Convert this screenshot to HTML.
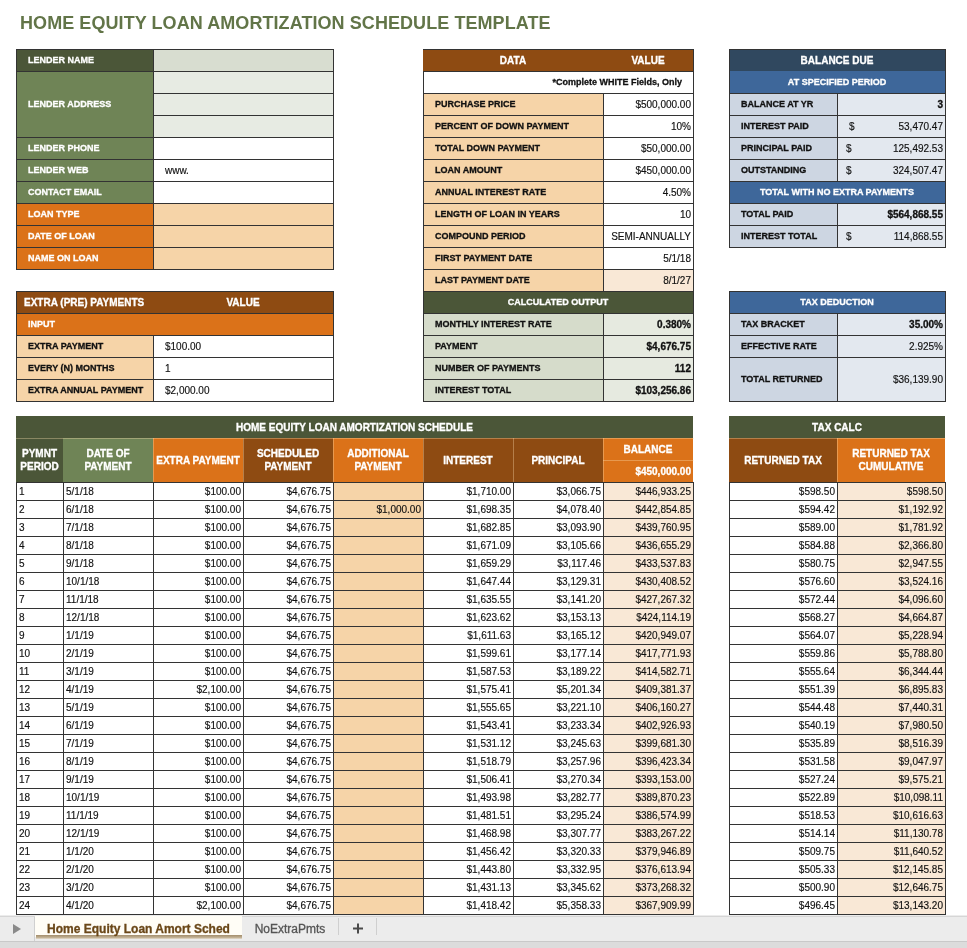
<!DOCTYPE html>
<html><head><meta charset="utf-8"><style>
html,body{margin:0;padding:0;}
body{width:967px;height:948px;position:relative;overflow:hidden;background:#fff;will-change:transform;font-family:"Liberation Sans",sans-serif;}
.b{position:absolute;box-sizing:border-box;}
.t{position:absolute;box-sizing:border-box;white-space:nowrap;font-weight:bold;overflow:hidden;-webkit-font-smoothing:antialiased;-webkit-text-stroke:0.3px currentColor;}
.n{font-weight:normal;-webkit-text-stroke:0.15px currentColor;}
.hd{display:flex;align-items:center;justify-content:center;text-align:center;color:#fff;font-size:10px;line-height:13px;}
.title{position:absolute;left:20px;top:13px;font-size:18px;letter-spacing:0.07px;font-weight:bold;color:#627548;white-space:nowrap;}
.tabbar{position:absolute;left:0;top:915px;width:967px;height:33px;background:#ececec;}
</style></head><body>
<div class="title">HOME EQUITY LOAN AMORTIZATION SCHEDULE TEMPLATE</div>
<div class="b" style="left:16px;top:49px;width:137px;height:22px;background:#4b5638;"></div>
<div class="b" style="left:153px;top:49px;width:180px;height:22px;background:#d8ddd0;"></div>
<div class="t" style="left:16px;top:49px;width:137px;height:22px;line-height:22px;font-size:9px;color:#fff;text-align:left;padding-left:12px;">LENDER NAME</div>
<div class="b" style="left:16px;top:71px;width:137px;height:66px;background:#6f8456;"></div>
<div class="b" style="left:153px;top:71px;width:180px;height:66px;background:#e7ebe3;"></div>
<div class="t" style="left:16px;top:71px;width:137px;height:66px;line-height:66px;font-size:9px;color:#fff;text-align:left;padding-left:12px;">LENDER ADDRESS</div>
<div class="b" style="left:16px;top:137px;width:137px;height:22px;background:#6f8456;"></div>
<div class="b" style="left:153px;top:137px;width:180px;height:22px;background:#fff;"></div>
<div class="t" style="left:16px;top:137px;width:137px;height:22px;line-height:22px;font-size:9px;color:#fff;text-align:left;padding-left:12px;">LENDER PHONE</div>
<div class="b" style="left:16px;top:159px;width:137px;height:22px;background:#6f8456;"></div>
<div class="b" style="left:153px;top:159px;width:180px;height:22px;background:#fff;"></div>
<div class="t" style="left:16px;top:159px;width:137px;height:22px;line-height:22px;font-size:9px;color:#fff;text-align:left;padding-left:12px;">LENDER WEB</div>
<div class="t n" style="left:153px;top:160px;width:180px;height:22px;line-height:22px;font-size:10px;color:#111;text-align:left;padding-left:12px;">www.</div>
<div class="b" style="left:16px;top:181px;width:137px;height:22px;background:#6f8456;"></div>
<div class="b" style="left:153px;top:181px;width:180px;height:22px;background:#fff;"></div>
<div class="t" style="left:16px;top:181px;width:137px;height:22px;line-height:22px;font-size:9px;color:#fff;text-align:left;padding-left:12px;">CONTACT EMAIL</div>
<div class="b" style="left:16px;top:203px;width:137px;height:22px;background:#db7219;"></div>
<div class="b" style="left:153px;top:203px;width:180px;height:22px;background:#f6d4a8;"></div>
<div class="t" style="left:16px;top:203px;width:137px;height:22px;line-height:22px;font-size:9px;color:#fff;text-align:left;padding-left:12px;">LOAN TYPE</div>
<div class="b" style="left:16px;top:225px;width:137px;height:22px;background:#db7219;"></div>
<div class="b" style="left:153px;top:225px;width:180px;height:22px;background:#f6d4a8;"></div>
<div class="t" style="left:16px;top:225px;width:137px;height:22px;line-height:22px;font-size:9px;color:#fff;text-align:left;padding-left:12px;">DATE OF LOAN</div>
<div class="b" style="left:16px;top:247px;width:137px;height:22px;background:#db7219;"></div>
<div class="b" style="left:153px;top:247px;width:180px;height:22px;background:#f6d4a8;"></div>
<div class="t" style="left:16px;top:247px;width:137px;height:22px;line-height:22px;font-size:9px;color:#fff;text-align:left;padding-left:12px;">NAME ON LOAN</div>
<div class="b" style="left:16px;top:49px;width:318px;height:1px;background:#333"></div>
<div class="b" style="left:16px;top:71px;width:318px;height:1px;background:#333"></div>
<div class="b" style="left:153px;top:93px;width:181px;height:1px;background:#333"></div>
<div class="b" style="left:153px;top:115px;width:181px;height:1px;background:#333"></div>
<div class="b" style="left:16px;top:137px;width:318px;height:1px;background:#333"></div>
<div class="b" style="left:16px;top:159px;width:318px;height:1px;background:#333"></div>
<div class="b" style="left:16px;top:181px;width:318px;height:1px;background:#333"></div>
<div class="b" style="left:16px;top:203px;width:318px;height:1px;background:#333"></div>
<div class="b" style="left:16px;top:225px;width:318px;height:1px;background:#333"></div>
<div class="b" style="left:16px;top:247px;width:318px;height:1px;background:#333"></div>
<div class="b" style="left:16px;top:269px;width:318px;height:1px;background:#333"></div>
<div class="b" style="left:16px;top:49px;width:1px;height:221px;background:#333"></div>
<div class="b" style="left:153px;top:49px;width:1px;height:221px;background:#333"></div>
<div class="b" style="left:333px;top:49px;width:1px;height:221px;background:#333"></div>
<div class="b" style="left:16px;top:291px;width:317px;height:22px;background:#8e4b12;"></div>
<div class="t" style="left:16px;top:292px;width:137px;height:22px;line-height:22px;font-size:10px;color:#fff;text-align:left;padding-left:8px;">EXTRA (PRE) PAYMENTS</div>
<div class="t" style="left:153px;top:292px;width:180px;height:22px;line-height:22px;font-size:10px;color:#fff;text-align:center;">VALUE</div>
<div class="b" style="left:16px;top:313px;width:317px;height:22px;background:#db7219;"></div>
<div class="t" style="left:16px;top:313px;width:137px;height:22px;line-height:22px;font-size:9px;color:#fff;text-align:left;padding-left:12px;">INPUT</div>
<div class="b" style="left:16px;top:335px;width:137px;height:22px;background:#f6d4a8;"></div>
<div class="b" style="left:153px;top:335px;width:180px;height:22px;background:#fff;"></div>
<div class="t" style="left:16px;top:335px;width:137px;height:22px;line-height:22px;font-size:9px;color:#111;text-align:left;padding-left:12px;">EXTRA PAYMENT</div>
<div class="t n" style="left:153px;top:336px;width:180px;height:22px;line-height:22px;font-size:10px;color:#111;text-align:left;padding-left:12px;">$100.00</div>
<div class="b" style="left:16px;top:357px;width:137px;height:22px;background:#f6d4a8;"></div>
<div class="b" style="left:153px;top:357px;width:180px;height:22px;background:#fff;"></div>
<div class="t" style="left:16px;top:357px;width:137px;height:22px;line-height:22px;font-size:9px;color:#111;text-align:left;padding-left:12px;">EVERY (N) MONTHS</div>
<div class="t n" style="left:153px;top:358px;width:180px;height:22px;line-height:22px;font-size:10px;color:#111;text-align:left;padding-left:12px;">1</div>
<div class="b" style="left:16px;top:379px;width:137px;height:22px;background:#f6d4a8;"></div>
<div class="b" style="left:153px;top:379px;width:180px;height:22px;background:#fff;"></div>
<div class="t" style="left:16px;top:379px;width:137px;height:22px;line-height:22px;font-size:9px;color:#111;text-align:left;padding-left:12px;">EXTRA ANNUAL PAYMENT</div>
<div class="t n" style="left:153px;top:380px;width:180px;height:22px;line-height:22px;font-size:10px;color:#111;text-align:left;padding-left:12px;">$2,000.00</div>
<div class="b" style="left:16px;top:291px;width:318px;height:1px;background:#333"></div>
<div class="b" style="left:16px;top:313px;width:318px;height:1px;background:#333"></div>
<div class="b" style="left:16px;top:335px;width:318px;height:1px;background:#333"></div>
<div class="b" style="left:16px;top:357px;width:318px;height:1px;background:#333"></div>
<div class="b" style="left:16px;top:379px;width:318px;height:1px;background:#333"></div>
<div class="b" style="left:16px;top:401px;width:318px;height:1px;background:#333"></div>
<div class="b" style="left:16px;top:291px;width:1px;height:111px;background:#333"></div>
<div class="b" style="left:333px;top:291px;width:1px;height:111px;background:#333"></div>
<div class="b" style="left:153px;top:335px;width:1px;height:67px;background:#333"></div>
<div class="b" style="left:423px;top:49px;width:270px;height:22px;background:#8e4b12;"></div>
<div class="t" style="left:423px;top:50px;width:180px;height:22px;line-height:22px;font-size:10px;color:#fff;text-align:center;">DATA</div>
<div class="t" style="left:603px;top:50px;width:90px;height:22px;line-height:22px;font-size:10px;color:#fff;text-align:center;">VALUE</div>
<div class="b" style="left:423px;top:71px;width:270px;height:22px;background:#fff;"></div>
<div class="t" style="left:423px;top:71px;width:270px;height:22px;line-height:22px;font-size:9px;color:#111;text-align:right;padding-right:11px;">*Complete WHITE Fields, Only</div>
<div class="b" style="left:423px;top:93px;width:180px;height:22px;background:#f6d4a8;"></div>
<div class="b" style="left:603px;top:93px;width:90px;height:22px;background:#fff;"></div>
<div class="t" style="left:423px;top:93px;width:180px;height:22px;line-height:22px;font-size:9px;color:#111;text-align:left;padding-left:12px;">PURCHASE PRICE</div>
<div class="t n" style="left:603px;top:94px;width:90px;height:22px;line-height:22px;font-size:10px;color:#111;text-align:right;padding-right:2px;">$500,000.00</div>
<div class="b" style="left:423px;top:115px;width:180px;height:22px;background:#f6d4a8;"></div>
<div class="b" style="left:603px;top:115px;width:90px;height:22px;background:#fff;"></div>
<div class="t" style="left:423px;top:115px;width:180px;height:22px;line-height:22px;font-size:9px;color:#111;text-align:left;padding-left:12px;">PERCENT OF DOWN PAYMENT</div>
<div class="t n" style="left:603px;top:116px;width:90px;height:22px;line-height:22px;font-size:10px;color:#111;text-align:right;padding-right:2px;">10%</div>
<div class="b" style="left:423px;top:137px;width:180px;height:22px;background:#f6d4a8;"></div>
<div class="b" style="left:603px;top:137px;width:90px;height:22px;background:#fff;"></div>
<div class="t" style="left:423px;top:137px;width:180px;height:22px;line-height:22px;font-size:9px;color:#111;text-align:left;padding-left:12px;">TOTAL DOWN PAYMENT</div>
<div class="t n" style="left:603px;top:138px;width:90px;height:22px;line-height:22px;font-size:10px;color:#111;text-align:right;padding-right:2px;">$50,000.00</div>
<div class="b" style="left:423px;top:159px;width:180px;height:22px;background:#f6d4a8;"></div>
<div class="b" style="left:603px;top:159px;width:90px;height:22px;background:#fff;"></div>
<div class="t" style="left:423px;top:159px;width:180px;height:22px;line-height:22px;font-size:9px;color:#111;text-align:left;padding-left:12px;">LOAN AMOUNT</div>
<div class="t n" style="left:603px;top:160px;width:90px;height:22px;line-height:22px;font-size:10px;color:#111;text-align:right;padding-right:2px;">$450,000.00</div>
<div class="b" style="left:423px;top:181px;width:180px;height:22px;background:#f6d4a8;"></div>
<div class="b" style="left:603px;top:181px;width:90px;height:22px;background:#fff;"></div>
<div class="t" style="left:423px;top:181px;width:180px;height:22px;line-height:22px;font-size:9px;color:#111;text-align:left;padding-left:12px;">ANNUAL INTEREST RATE</div>
<div class="t n" style="left:603px;top:182px;width:90px;height:22px;line-height:22px;font-size:10px;color:#111;text-align:right;padding-right:2px;">4.50%</div>
<div class="b" style="left:423px;top:203px;width:180px;height:22px;background:#f6d4a8;"></div>
<div class="b" style="left:603px;top:203px;width:90px;height:22px;background:#fff;"></div>
<div class="t" style="left:423px;top:203px;width:180px;height:22px;line-height:22px;font-size:9px;color:#111;text-align:left;padding-left:12px;">LENGTH OF LOAN IN YEARS</div>
<div class="t n" style="left:603px;top:204px;width:90px;height:22px;line-height:22px;font-size:10px;color:#111;text-align:right;padding-right:2px;">10</div>
<div class="b" style="left:423px;top:225px;width:180px;height:22px;background:#f6d4a8;"></div>
<div class="b" style="left:603px;top:225px;width:90px;height:22px;background:#fff;"></div>
<div class="t" style="left:423px;top:225px;width:180px;height:22px;line-height:22px;font-size:9px;color:#111;text-align:left;padding-left:12px;">COMPOUND PERIOD</div>
<div class="t n" style="left:603px;top:226px;width:90px;height:22px;line-height:22px;font-size:10px;color:#111;text-align:right;padding-right:2px;">SEMI-ANNUALLY</div>
<div class="b" style="left:423px;top:247px;width:180px;height:22px;background:#f6d4a8;"></div>
<div class="b" style="left:603px;top:247px;width:90px;height:22px;background:#fff;"></div>
<div class="t" style="left:423px;top:247px;width:180px;height:22px;line-height:22px;font-size:9px;color:#111;text-align:left;padding-left:12px;">FIRST PAYMENT DATE</div>
<div class="t n" style="left:603px;top:248px;width:90px;height:22px;line-height:22px;font-size:10px;color:#111;text-align:right;padding-right:2px;">5/1/18</div>
<div class="b" style="left:423px;top:269px;width:180px;height:22px;background:#f6d4a8;"></div>
<div class="b" style="left:603px;top:269px;width:90px;height:22px;background:#f9e8d6;"></div>
<div class="t" style="left:423px;top:269px;width:180px;height:22px;line-height:22px;font-size:9px;color:#111;text-align:left;padding-left:12px;">LAST PAYMENT DATE</div>
<div class="t n" style="left:603px;top:270px;width:90px;height:22px;line-height:22px;font-size:10px;color:#111;text-align:right;padding-right:2px;">8/1/27</div>
<div class="b" style="left:423px;top:291px;width:270px;height:22px;background:#4b5638;"></div>
<div class="t" style="left:423px;top:291px;width:270px;height:22px;line-height:22px;font-size:9px;color:#fff;text-align:center;">CALCULATED OUTPUT</div>
<div class="b" style="left:423px;top:313px;width:180px;height:22px;background:#d6dccb;"></div>
<div class="b" style="left:603px;top:313px;width:90px;height:22px;background:#e6eae0;"></div>
<div class="t" style="left:423px;top:313px;width:180px;height:22px;line-height:22px;font-size:9px;color:#111;text-align:left;padding-left:12px;">MONTHLY INTEREST RATE</div>
<div class="t" style="left:603px;top:314px;width:90px;height:22px;line-height:22px;font-size:10px;color:#111;text-align:right;padding-right:2px;">0.380%</div>
<div class="b" style="left:423px;top:335px;width:180px;height:22px;background:#d6dccb;"></div>
<div class="b" style="left:603px;top:335px;width:90px;height:22px;background:#e6eae0;"></div>
<div class="t" style="left:423px;top:335px;width:180px;height:22px;line-height:22px;font-size:9px;color:#111;text-align:left;padding-left:12px;">PAYMENT</div>
<div class="t" style="left:603px;top:336px;width:90px;height:22px;line-height:22px;font-size:10px;color:#111;text-align:right;padding-right:2px;">$4,676.75</div>
<div class="b" style="left:423px;top:357px;width:180px;height:22px;background:#d6dccb;"></div>
<div class="b" style="left:603px;top:357px;width:90px;height:22px;background:#e6eae0;"></div>
<div class="t" style="left:423px;top:357px;width:180px;height:22px;line-height:22px;font-size:9px;color:#111;text-align:left;padding-left:12px;">NUMBER OF PAYMENTS</div>
<div class="t" style="left:603px;top:358px;width:90px;height:22px;line-height:22px;font-size:10px;color:#111;text-align:right;padding-right:2px;">112</div>
<div class="b" style="left:423px;top:379px;width:180px;height:22px;background:#d6dccb;"></div>
<div class="b" style="left:603px;top:379px;width:90px;height:22px;background:#e6eae0;"></div>
<div class="t" style="left:423px;top:379px;width:180px;height:22px;line-height:22px;font-size:9px;color:#111;text-align:left;padding-left:12px;">INTEREST TOTAL</div>
<div class="t" style="left:603px;top:380px;width:90px;height:22px;line-height:22px;font-size:10px;color:#111;text-align:right;padding-right:2px;">$103,256.86</div>
<div class="b" style="left:423px;top:49px;width:271px;height:1px;background:#333"></div>
<div class="b" style="left:423px;top:71px;width:271px;height:1px;background:#333"></div>
<div class="b" style="left:423px;top:93px;width:271px;height:1px;background:#333"></div>
<div class="b" style="left:423px;top:115px;width:271px;height:1px;background:#333"></div>
<div class="b" style="left:423px;top:137px;width:271px;height:1px;background:#333"></div>
<div class="b" style="left:423px;top:159px;width:271px;height:1px;background:#333"></div>
<div class="b" style="left:423px;top:181px;width:271px;height:1px;background:#333"></div>
<div class="b" style="left:423px;top:203px;width:271px;height:1px;background:#333"></div>
<div class="b" style="left:423px;top:225px;width:271px;height:1px;background:#333"></div>
<div class="b" style="left:423px;top:247px;width:271px;height:1px;background:#333"></div>
<div class="b" style="left:423px;top:269px;width:271px;height:1px;background:#333"></div>
<div class="b" style="left:423px;top:291px;width:271px;height:1px;background:#333"></div>
<div class="b" style="left:423px;top:313px;width:271px;height:1px;background:#333"></div>
<div class="b" style="left:423px;top:335px;width:271px;height:1px;background:#333"></div>
<div class="b" style="left:423px;top:357px;width:271px;height:1px;background:#333"></div>
<div class="b" style="left:423px;top:379px;width:271px;height:1px;background:#333"></div>
<div class="b" style="left:423px;top:401px;width:271px;height:1px;background:#333"></div>
<div class="b" style="left:423px;top:71px;width:271px;height:1px;background:#333"></div>
<div class="b" style="left:423px;top:313px;width:271px;height:1px;background:#333"></div>
<div class="b" style="left:423px;top:71px;width:1px;height:331px;background:#333"></div>
<div class="b" style="left:693px;top:49px;width:1px;height:353px;background:#333"></div>
<div class="b" style="left:603px;top:93px;width:1px;height:199px;background:#333"></div>
<div class="b" style="left:603px;top:313px;width:1px;height:89px;background:#333"></div>
<div class="b" style="left:729px;top:49px;width:216px;height:22px;background:#30485f;"></div>
<div class="t" style="left:729px;top:50px;width:216px;height:22px;line-height:22px;font-size:10px;color:#fff;text-align:center;">BALANCE DUE</div>
<div class="b" style="left:729px;top:71px;width:216px;height:22px;background:#3e679a;"></div>
<div class="t" style="left:729px;top:71px;width:216px;height:22px;line-height:22px;font-size:9px;color:#fff;text-align:center;">AT SPECIFIED PERIOD</div>
<div class="b" style="left:729px;top:93px;width:108px;height:22px;background:#cdd6e2;"></div>
<div class="b" style="left:837px;top:93px;width:108px;height:22px;background:#e3e8ef;"></div>
<div class="t" style="left:729px;top:93px;width:108px;height:22px;line-height:22px;font-size:9px;color:#111;text-align:left;padding-left:12px;">BALANCE AT YR</div>
<div class="t" style="left:837px;top:94px;width:108px;height:22px;line-height:22px;font-size:10px;color:#111;text-align:right;padding-right:2px;">3</div>
<div class="b" style="left:729px;top:115px;width:108px;height:22px;background:#cdd6e2;"></div>
<div class="b" style="left:837px;top:115px;width:108px;height:22px;background:#e3e8ef;"></div>
<div class="t" style="left:729px;top:115px;width:108px;height:22px;line-height:22px;font-size:9px;color:#111;text-align:left;padding-left:12px;">INTEREST PAID</div>
<div class="t n" style="left:837px;top:116px;width:108px;height:22px;line-height:22px;font-size:10px;color:#111;text-align:right;padding-right:2px;">53,470.47</div>
<div class="t n" style="left:837px;top:116px;width:108px;height:22px;line-height:22px;font-size:10px;color:#111;text-align:left;padding-left:12px;">$</div>
<div class="b" style="left:729px;top:137px;width:108px;height:22px;background:#cdd6e2;"></div>
<div class="b" style="left:837px;top:137px;width:108px;height:22px;background:#e3e8ef;"></div>
<div class="t" style="left:729px;top:137px;width:108px;height:22px;line-height:22px;font-size:9px;color:#111;text-align:left;padding-left:12px;">PRINCIPAL PAID</div>
<div class="t n" style="left:837px;top:138px;width:108px;height:22px;line-height:22px;font-size:10px;color:#111;text-align:right;padding-right:2px;">125,492.53</div>
<div class="t n" style="left:837px;top:138px;width:108px;height:22px;line-height:22px;font-size:10px;color:#111;text-align:left;padding-left:9px;">$</div>
<div class="b" style="left:729px;top:159px;width:108px;height:22px;background:#cdd6e2;"></div>
<div class="b" style="left:837px;top:159px;width:108px;height:22px;background:#e3e8ef;"></div>
<div class="t" style="left:729px;top:159px;width:108px;height:22px;line-height:22px;font-size:9px;color:#111;text-align:left;padding-left:12px;">OUTSTANDING</div>
<div class="t n" style="left:837px;top:160px;width:108px;height:22px;line-height:22px;font-size:10px;color:#111;text-align:right;padding-right:2px;">324,507.47</div>
<div class="t n" style="left:837px;top:160px;width:108px;height:22px;line-height:22px;font-size:10px;color:#111;text-align:left;padding-left:9px;">$</div>
<div class="b" style="left:729px;top:181px;width:216px;height:22px;background:#3e679a;"></div>
<div class="t" style="left:729px;top:181px;width:216px;height:22px;line-height:22px;font-size:9px;color:#fff;text-align:center;">TOTAL WITH NO EXTRA PAYMENTS</div>
<div class="b" style="left:729px;top:203px;width:108px;height:22px;background:#cdd6e2;"></div>
<div class="b" style="left:837px;top:203px;width:108px;height:22px;background:#e3e8ef;"></div>
<div class="t" style="left:729px;top:203px;width:108px;height:22px;line-height:22px;font-size:9px;color:#111;text-align:left;padding-left:12px;">TOTAL PAID</div>
<div class="t" style="left:837px;top:204px;width:108px;height:22px;line-height:22px;font-size:10px;color:#111;text-align:right;padding-right:2px;">$564,868.55</div>
<div class="b" style="left:729px;top:225px;width:108px;height:22px;background:#cdd6e2;"></div>
<div class="b" style="left:837px;top:225px;width:108px;height:22px;background:#e3e8ef;"></div>
<div class="t" style="left:729px;top:225px;width:108px;height:22px;line-height:22px;font-size:9px;color:#111;text-align:left;padding-left:12px;">INTEREST TOTAL</div>
<div class="t n" style="left:837px;top:226px;width:108px;height:22px;line-height:22px;font-size:10px;color:#111;text-align:right;padding-right:2px;">114,868.55</div>
<div class="t n" style="left:837px;top:226px;width:108px;height:22px;line-height:22px;font-size:10px;color:#111;text-align:left;padding-left:9px;">$</div>
<div class="b" style="left:729px;top:49px;width:217px;height:1px;background:#333"></div>
<div class="b" style="left:729px;top:93px;width:217px;height:1px;background:#333"></div>
<div class="b" style="left:729px;top:115px;width:217px;height:1px;background:#333"></div>
<div class="b" style="left:729px;top:137px;width:217px;height:1px;background:#333"></div>
<div class="b" style="left:729px;top:159px;width:217px;height:1px;background:#333"></div>
<div class="b" style="left:729px;top:181px;width:217px;height:1px;background:#333"></div>
<div class="b" style="left:729px;top:203px;width:217px;height:1px;background:#333"></div>
<div class="b" style="left:729px;top:225px;width:217px;height:1px;background:#333"></div>
<div class="b" style="left:729px;top:247px;width:217px;height:1px;background:#333"></div>
<div class="b" style="left:729px;top:49px;width:1px;height:199px;background:#333"></div>
<div class="b" style="left:945px;top:49px;width:1px;height:199px;background:#333"></div>
<div class="b" style="left:837px;top:93px;width:1px;height:89px;background:#333"></div>
<div class="b" style="left:837px;top:203px;width:1px;height:45px;background:#333"></div>
<div class="b" style="left:729px;top:291px;width:216px;height:22px;background:#3e679a;"></div>
<div class="t" style="left:729px;top:291px;width:216px;height:22px;line-height:22px;font-size:9px;color:#fff;text-align:center;">TAX DEDUCTION</div>
<div class="b" style="left:729px;top:313px;width:108px;height:22px;background:#cdd6e2;"></div>
<div class="b" style="left:837px;top:313px;width:108px;height:22px;background:#e3e8ef;"></div>
<div class="t" style="left:729px;top:313px;width:108px;height:22px;line-height:22px;font-size:9px;color:#111;text-align:left;padding-left:12px;">TAX BRACKET</div>
<div class="t" style="left:837px;top:314px;width:108px;height:22px;line-height:22px;font-size:10px;color:#111;text-align:right;padding-right:2px;">35.00%</div>
<div class="b" style="left:729px;top:335px;width:108px;height:22px;background:#cdd6e2;"></div>
<div class="b" style="left:837px;top:335px;width:108px;height:22px;background:#e3e8ef;"></div>
<div class="t" style="left:729px;top:335px;width:108px;height:22px;line-height:22px;font-size:9px;color:#111;text-align:left;padding-left:12px;">EFFECTIVE RATE</div>
<div class="t n" style="left:837px;top:336px;width:108px;height:22px;line-height:22px;font-size:10px;color:#111;text-align:right;padding-right:2px;">2.925%</div>
<div class="b" style="left:729px;top:357px;width:108px;height:44px;background:#cdd6e2;"></div>
<div class="b" style="left:837px;top:357px;width:108px;height:44px;background:#e3e8ef;"></div>
<div class="t" style="left:729px;top:357px;width:108px;height:44px;line-height:44px;font-size:9px;color:#111;text-align:left;padding-left:12px;">TOTAL RETURNED</div>
<div class="t n" style="left:837px;top:358px;width:108px;height:44px;line-height:44px;font-size:10px;color:#111;text-align:right;padding-right:2px;">$36,139.90</div>
<div class="b" style="left:729px;top:291px;width:217px;height:1px;background:#333"></div>
<div class="b" style="left:729px;top:313px;width:217px;height:1px;background:#333"></div>
<div class="b" style="left:729px;top:335px;width:217px;height:1px;background:#333"></div>
<div class="b" style="left:729px;top:357px;width:217px;height:1px;background:#333"></div>
<div class="b" style="left:729px;top:401px;width:217px;height:1px;background:#333"></div>
<div class="b" style="left:729px;top:291px;width:1px;height:111px;background:#333"></div>
<div class="b" style="left:945px;top:291px;width:1px;height:111px;background:#333"></div>
<div class="b" style="left:837px;top:313px;width:1px;height:89px;background:#333"></div>
<div class="b" style="left:16px;top:416px;width:677px;height:22px;background:#4b5638;"></div>
<div class="t" style="left:16px;top:417px;width:677px;height:22px;line-height:22px;font-size:10px;color:#fff;text-align:center;">HOME EQUITY LOAN AMORTIZATION SCHEDULE</div>
<div class="b" style="left:16px;top:438px;width:47px;height:44px;background:#4b5638;"></div>
<div class="t hd" style="left:16px;top:438px;width:47px;height:44px;">PYMNT<br>PERIOD</div>
<div class="b" style="left:63px;top:438px;width:90px;height:44px;background:#6f8456;"></div>
<div class="t hd" style="left:63px;top:438px;width:90px;height:44px;">DATE OF<br>PAYMENT</div>
<div class="b" style="left:153px;top:438px;width:90px;height:44px;background:#db7219;"></div>
<div class="t hd" style="left:153px;top:438px;width:90px;height:44px;">EXTRA PAYMENT</div>
<div class="b" style="left:243px;top:438px;width:90px;height:44px;background:#8e4b12;"></div>
<div class="t hd" style="left:243px;top:438px;width:90px;height:44px;">SCHEDULED<br>PAYMENT</div>
<div class="b" style="left:333px;top:438px;width:90px;height:44px;background:#db7219;"></div>
<div class="t hd" style="left:333px;top:438px;width:90px;height:44px;">ADDITIONAL<br>PAYMENT</div>
<div class="b" style="left:423px;top:438px;width:90px;height:44px;background:#8e4b12;"></div>
<div class="t hd" style="left:423px;top:438px;width:90px;height:44px;">INTEREST</div>
<div class="b" style="left:513px;top:438px;width:90px;height:44px;background:#8e4b12;"></div>
<div class="t hd" style="left:513px;top:438px;width:90px;height:44px;">PRINCIPAL</div>
<div class="b" style="left:603px;top:438px;width:90px;height:44px;background:#db7219;"></div>
<div class="t" style="left:603px;top:439px;width:90px;height:22px;line-height:22px;font-size:10px;color:#fff;text-align:center;">BALANCE</div>
<div class="t" style="left:603px;top:461px;width:90px;height:22px;line-height:22px;font-size:10px;color:#fff;text-align:right;padding-right:2px;">$450,000.00</div>
<div class="b" style="left:153px;top:438px;width:1px;height:44px;background:rgba(255,225,180,0.35)"></div>
<div class="b" style="left:243px;top:438px;width:1px;height:44px;background:rgba(255,225,180,0.35)"></div>
<div class="b" style="left:333px;top:438px;width:1px;height:44px;background:rgba(255,225,180,0.35)"></div>
<div class="b" style="left:423px;top:438px;width:1px;height:44px;background:rgba(255,225,180,0.35)"></div>
<div class="b" style="left:513px;top:438px;width:1px;height:44px;background:rgba(255,225,180,0.35)"></div>
<div class="b" style="left:603px;top:438px;width:1px;height:44px;background:rgba(255,225,180,0.35)"></div>
<div class="b" style="left:16px;top:438px;width:678px;height:1px;background:rgba(255,225,180,0.35)"></div>
<div class="b" style="left:603px;top:460px;width:91px;height:1px;background:rgba(255,225,180,0.35)"></div>
<div class="b" style="left:333px;top:482px;width:90px;height:432px;background:#f6d4a8;"></div>
<div class="b" style="left:603px;top:482px;width:90px;height:432px;background:#f9e8d6;"></div>
<div class="b" style="left:837px;top:482px;width:108px;height:432px;background:#f9e8d6;"></div>
<div class="t n" style="left:16px;top:483px;width:47px;height:18px;line-height:18px;font-size:10px;color:#111;text-align:left;padding-left:3px;">1</div>
<div class="t n" style="left:63px;top:483px;width:90px;height:18px;line-height:18px;font-size:10px;color:#111;text-align:left;padding-left:3px;">5/1/18</div>
<div class="t n" style="left:153px;top:483px;width:90px;height:18px;line-height:18px;font-size:10px;color:#111;text-align:right;padding-right:2px;">$100.00</div>
<div class="t n" style="left:243px;top:483px;width:90px;height:18px;line-height:18px;font-size:10px;color:#111;text-align:right;padding-right:2px;">$4,676.75</div>
<div class="t n" style="left:423px;top:483px;width:90px;height:18px;line-height:18px;font-size:10px;color:#111;text-align:right;padding-right:2px;">$1,710.00</div>
<div class="t n" style="left:513px;top:483px;width:90px;height:18px;line-height:18px;font-size:10px;color:#111;text-align:right;padding-right:2px;">$3,066.75</div>
<div class="t n" style="left:603px;top:483px;width:90px;height:18px;line-height:18px;font-size:10px;color:#111;text-align:right;padding-right:2px;">$446,933.25</div>
<div class="t n" style="left:729px;top:483px;width:108px;height:18px;line-height:18px;font-size:10px;color:#111;text-align:right;padding-right:2px;">$598.50</div>
<div class="t n" style="left:837px;top:483px;width:108px;height:18px;line-height:18px;font-size:10px;color:#111;text-align:right;padding-right:2px;">$598.50</div>
<div class="t n" style="left:16px;top:501px;width:47px;height:18px;line-height:18px;font-size:10px;color:#111;text-align:left;padding-left:3px;">2</div>
<div class="t n" style="left:63px;top:501px;width:90px;height:18px;line-height:18px;font-size:10px;color:#111;text-align:left;padding-left:3px;">6/1/18</div>
<div class="t n" style="left:153px;top:501px;width:90px;height:18px;line-height:18px;font-size:10px;color:#111;text-align:right;padding-right:2px;">$100.00</div>
<div class="t n" style="left:243px;top:501px;width:90px;height:18px;line-height:18px;font-size:10px;color:#111;text-align:right;padding-right:2px;">$4,676.75</div>
<div class="t n" style="left:333px;top:501px;width:90px;height:18px;line-height:18px;font-size:10px;color:#111;text-align:right;padding-right:2px;">$1,000.00</div>
<div class="t n" style="left:423px;top:501px;width:90px;height:18px;line-height:18px;font-size:10px;color:#111;text-align:right;padding-right:2px;">$1,698.35</div>
<div class="t n" style="left:513px;top:501px;width:90px;height:18px;line-height:18px;font-size:10px;color:#111;text-align:right;padding-right:2px;">$4,078.40</div>
<div class="t n" style="left:603px;top:501px;width:90px;height:18px;line-height:18px;font-size:10px;color:#111;text-align:right;padding-right:2px;">$442,854.85</div>
<div class="t n" style="left:729px;top:501px;width:108px;height:18px;line-height:18px;font-size:10px;color:#111;text-align:right;padding-right:2px;">$594.42</div>
<div class="t n" style="left:837px;top:501px;width:108px;height:18px;line-height:18px;font-size:10px;color:#111;text-align:right;padding-right:2px;">$1,192.92</div>
<div class="t n" style="left:16px;top:519px;width:47px;height:18px;line-height:18px;font-size:10px;color:#111;text-align:left;padding-left:3px;">3</div>
<div class="t n" style="left:63px;top:519px;width:90px;height:18px;line-height:18px;font-size:10px;color:#111;text-align:left;padding-left:3px;">7/1/18</div>
<div class="t n" style="left:153px;top:519px;width:90px;height:18px;line-height:18px;font-size:10px;color:#111;text-align:right;padding-right:2px;">$100.00</div>
<div class="t n" style="left:243px;top:519px;width:90px;height:18px;line-height:18px;font-size:10px;color:#111;text-align:right;padding-right:2px;">$4,676.75</div>
<div class="t n" style="left:423px;top:519px;width:90px;height:18px;line-height:18px;font-size:10px;color:#111;text-align:right;padding-right:2px;">$1,682.85</div>
<div class="t n" style="left:513px;top:519px;width:90px;height:18px;line-height:18px;font-size:10px;color:#111;text-align:right;padding-right:2px;">$3,093.90</div>
<div class="t n" style="left:603px;top:519px;width:90px;height:18px;line-height:18px;font-size:10px;color:#111;text-align:right;padding-right:2px;">$439,760.95</div>
<div class="t n" style="left:729px;top:519px;width:108px;height:18px;line-height:18px;font-size:10px;color:#111;text-align:right;padding-right:2px;">$589.00</div>
<div class="t n" style="left:837px;top:519px;width:108px;height:18px;line-height:18px;font-size:10px;color:#111;text-align:right;padding-right:2px;">$1,781.92</div>
<div class="t n" style="left:16px;top:537px;width:47px;height:18px;line-height:18px;font-size:10px;color:#111;text-align:left;padding-left:3px;">4</div>
<div class="t n" style="left:63px;top:537px;width:90px;height:18px;line-height:18px;font-size:10px;color:#111;text-align:left;padding-left:3px;">8/1/18</div>
<div class="t n" style="left:153px;top:537px;width:90px;height:18px;line-height:18px;font-size:10px;color:#111;text-align:right;padding-right:2px;">$100.00</div>
<div class="t n" style="left:243px;top:537px;width:90px;height:18px;line-height:18px;font-size:10px;color:#111;text-align:right;padding-right:2px;">$4,676.75</div>
<div class="t n" style="left:423px;top:537px;width:90px;height:18px;line-height:18px;font-size:10px;color:#111;text-align:right;padding-right:2px;">$1,671.09</div>
<div class="t n" style="left:513px;top:537px;width:90px;height:18px;line-height:18px;font-size:10px;color:#111;text-align:right;padding-right:2px;">$3,105.66</div>
<div class="t n" style="left:603px;top:537px;width:90px;height:18px;line-height:18px;font-size:10px;color:#111;text-align:right;padding-right:2px;">$436,655.29</div>
<div class="t n" style="left:729px;top:537px;width:108px;height:18px;line-height:18px;font-size:10px;color:#111;text-align:right;padding-right:2px;">$584.88</div>
<div class="t n" style="left:837px;top:537px;width:108px;height:18px;line-height:18px;font-size:10px;color:#111;text-align:right;padding-right:2px;">$2,366.80</div>
<div class="t n" style="left:16px;top:555px;width:47px;height:18px;line-height:18px;font-size:10px;color:#111;text-align:left;padding-left:3px;">5</div>
<div class="t n" style="left:63px;top:555px;width:90px;height:18px;line-height:18px;font-size:10px;color:#111;text-align:left;padding-left:3px;">9/1/18</div>
<div class="t n" style="left:153px;top:555px;width:90px;height:18px;line-height:18px;font-size:10px;color:#111;text-align:right;padding-right:2px;">$100.00</div>
<div class="t n" style="left:243px;top:555px;width:90px;height:18px;line-height:18px;font-size:10px;color:#111;text-align:right;padding-right:2px;">$4,676.75</div>
<div class="t n" style="left:423px;top:555px;width:90px;height:18px;line-height:18px;font-size:10px;color:#111;text-align:right;padding-right:2px;">$1,659.29</div>
<div class="t n" style="left:513px;top:555px;width:90px;height:18px;line-height:18px;font-size:10px;color:#111;text-align:right;padding-right:2px;">$3,117.46</div>
<div class="t n" style="left:603px;top:555px;width:90px;height:18px;line-height:18px;font-size:10px;color:#111;text-align:right;padding-right:2px;">$433,537.83</div>
<div class="t n" style="left:729px;top:555px;width:108px;height:18px;line-height:18px;font-size:10px;color:#111;text-align:right;padding-right:2px;">$580.75</div>
<div class="t n" style="left:837px;top:555px;width:108px;height:18px;line-height:18px;font-size:10px;color:#111;text-align:right;padding-right:2px;">$2,947.55</div>
<div class="t n" style="left:16px;top:573px;width:47px;height:18px;line-height:18px;font-size:10px;color:#111;text-align:left;padding-left:3px;">6</div>
<div class="t n" style="left:63px;top:573px;width:90px;height:18px;line-height:18px;font-size:10px;color:#111;text-align:left;padding-left:3px;">10/1/18</div>
<div class="t n" style="left:153px;top:573px;width:90px;height:18px;line-height:18px;font-size:10px;color:#111;text-align:right;padding-right:2px;">$100.00</div>
<div class="t n" style="left:243px;top:573px;width:90px;height:18px;line-height:18px;font-size:10px;color:#111;text-align:right;padding-right:2px;">$4,676.75</div>
<div class="t n" style="left:423px;top:573px;width:90px;height:18px;line-height:18px;font-size:10px;color:#111;text-align:right;padding-right:2px;">$1,647.44</div>
<div class="t n" style="left:513px;top:573px;width:90px;height:18px;line-height:18px;font-size:10px;color:#111;text-align:right;padding-right:2px;">$3,129.31</div>
<div class="t n" style="left:603px;top:573px;width:90px;height:18px;line-height:18px;font-size:10px;color:#111;text-align:right;padding-right:2px;">$430,408.52</div>
<div class="t n" style="left:729px;top:573px;width:108px;height:18px;line-height:18px;font-size:10px;color:#111;text-align:right;padding-right:2px;">$576.60</div>
<div class="t n" style="left:837px;top:573px;width:108px;height:18px;line-height:18px;font-size:10px;color:#111;text-align:right;padding-right:2px;">$3,524.16</div>
<div class="t n" style="left:16px;top:591px;width:47px;height:18px;line-height:18px;font-size:10px;color:#111;text-align:left;padding-left:3px;">7</div>
<div class="t n" style="left:63px;top:591px;width:90px;height:18px;line-height:18px;font-size:10px;color:#111;text-align:left;padding-left:3px;">11/1/18</div>
<div class="t n" style="left:153px;top:591px;width:90px;height:18px;line-height:18px;font-size:10px;color:#111;text-align:right;padding-right:2px;">$100.00</div>
<div class="t n" style="left:243px;top:591px;width:90px;height:18px;line-height:18px;font-size:10px;color:#111;text-align:right;padding-right:2px;">$4,676.75</div>
<div class="t n" style="left:423px;top:591px;width:90px;height:18px;line-height:18px;font-size:10px;color:#111;text-align:right;padding-right:2px;">$1,635.55</div>
<div class="t n" style="left:513px;top:591px;width:90px;height:18px;line-height:18px;font-size:10px;color:#111;text-align:right;padding-right:2px;">$3,141.20</div>
<div class="t n" style="left:603px;top:591px;width:90px;height:18px;line-height:18px;font-size:10px;color:#111;text-align:right;padding-right:2px;">$427,267.32</div>
<div class="t n" style="left:729px;top:591px;width:108px;height:18px;line-height:18px;font-size:10px;color:#111;text-align:right;padding-right:2px;">$572.44</div>
<div class="t n" style="left:837px;top:591px;width:108px;height:18px;line-height:18px;font-size:10px;color:#111;text-align:right;padding-right:2px;">$4,096.60</div>
<div class="t n" style="left:16px;top:609px;width:47px;height:18px;line-height:18px;font-size:10px;color:#111;text-align:left;padding-left:3px;">8</div>
<div class="t n" style="left:63px;top:609px;width:90px;height:18px;line-height:18px;font-size:10px;color:#111;text-align:left;padding-left:3px;">12/1/18</div>
<div class="t n" style="left:153px;top:609px;width:90px;height:18px;line-height:18px;font-size:10px;color:#111;text-align:right;padding-right:2px;">$100.00</div>
<div class="t n" style="left:243px;top:609px;width:90px;height:18px;line-height:18px;font-size:10px;color:#111;text-align:right;padding-right:2px;">$4,676.75</div>
<div class="t n" style="left:423px;top:609px;width:90px;height:18px;line-height:18px;font-size:10px;color:#111;text-align:right;padding-right:2px;">$1,623.62</div>
<div class="t n" style="left:513px;top:609px;width:90px;height:18px;line-height:18px;font-size:10px;color:#111;text-align:right;padding-right:2px;">$3,153.13</div>
<div class="t n" style="left:603px;top:609px;width:90px;height:18px;line-height:18px;font-size:10px;color:#111;text-align:right;padding-right:2px;">$424,114.19</div>
<div class="t n" style="left:729px;top:609px;width:108px;height:18px;line-height:18px;font-size:10px;color:#111;text-align:right;padding-right:2px;">$568.27</div>
<div class="t n" style="left:837px;top:609px;width:108px;height:18px;line-height:18px;font-size:10px;color:#111;text-align:right;padding-right:2px;">$4,664.87</div>
<div class="t n" style="left:16px;top:627px;width:47px;height:18px;line-height:18px;font-size:10px;color:#111;text-align:left;padding-left:3px;">9</div>
<div class="t n" style="left:63px;top:627px;width:90px;height:18px;line-height:18px;font-size:10px;color:#111;text-align:left;padding-left:3px;">1/1/19</div>
<div class="t n" style="left:153px;top:627px;width:90px;height:18px;line-height:18px;font-size:10px;color:#111;text-align:right;padding-right:2px;">$100.00</div>
<div class="t n" style="left:243px;top:627px;width:90px;height:18px;line-height:18px;font-size:10px;color:#111;text-align:right;padding-right:2px;">$4,676.75</div>
<div class="t n" style="left:423px;top:627px;width:90px;height:18px;line-height:18px;font-size:10px;color:#111;text-align:right;padding-right:2px;">$1,611.63</div>
<div class="t n" style="left:513px;top:627px;width:90px;height:18px;line-height:18px;font-size:10px;color:#111;text-align:right;padding-right:2px;">$3,165.12</div>
<div class="t n" style="left:603px;top:627px;width:90px;height:18px;line-height:18px;font-size:10px;color:#111;text-align:right;padding-right:2px;">$420,949.07</div>
<div class="t n" style="left:729px;top:627px;width:108px;height:18px;line-height:18px;font-size:10px;color:#111;text-align:right;padding-right:2px;">$564.07</div>
<div class="t n" style="left:837px;top:627px;width:108px;height:18px;line-height:18px;font-size:10px;color:#111;text-align:right;padding-right:2px;">$5,228.94</div>
<div class="t n" style="left:16px;top:645px;width:47px;height:18px;line-height:18px;font-size:10px;color:#111;text-align:left;padding-left:3px;">10</div>
<div class="t n" style="left:63px;top:645px;width:90px;height:18px;line-height:18px;font-size:10px;color:#111;text-align:left;padding-left:3px;">2/1/19</div>
<div class="t n" style="left:153px;top:645px;width:90px;height:18px;line-height:18px;font-size:10px;color:#111;text-align:right;padding-right:2px;">$100.00</div>
<div class="t n" style="left:243px;top:645px;width:90px;height:18px;line-height:18px;font-size:10px;color:#111;text-align:right;padding-right:2px;">$4,676.75</div>
<div class="t n" style="left:423px;top:645px;width:90px;height:18px;line-height:18px;font-size:10px;color:#111;text-align:right;padding-right:2px;">$1,599.61</div>
<div class="t n" style="left:513px;top:645px;width:90px;height:18px;line-height:18px;font-size:10px;color:#111;text-align:right;padding-right:2px;">$3,177.14</div>
<div class="t n" style="left:603px;top:645px;width:90px;height:18px;line-height:18px;font-size:10px;color:#111;text-align:right;padding-right:2px;">$417,771.93</div>
<div class="t n" style="left:729px;top:645px;width:108px;height:18px;line-height:18px;font-size:10px;color:#111;text-align:right;padding-right:2px;">$559.86</div>
<div class="t n" style="left:837px;top:645px;width:108px;height:18px;line-height:18px;font-size:10px;color:#111;text-align:right;padding-right:2px;">$5,788.80</div>
<div class="t n" style="left:16px;top:663px;width:47px;height:18px;line-height:18px;font-size:10px;color:#111;text-align:left;padding-left:3px;">11</div>
<div class="t n" style="left:63px;top:663px;width:90px;height:18px;line-height:18px;font-size:10px;color:#111;text-align:left;padding-left:3px;">3/1/19</div>
<div class="t n" style="left:153px;top:663px;width:90px;height:18px;line-height:18px;font-size:10px;color:#111;text-align:right;padding-right:2px;">$100.00</div>
<div class="t n" style="left:243px;top:663px;width:90px;height:18px;line-height:18px;font-size:10px;color:#111;text-align:right;padding-right:2px;">$4,676.75</div>
<div class="t n" style="left:423px;top:663px;width:90px;height:18px;line-height:18px;font-size:10px;color:#111;text-align:right;padding-right:2px;">$1,587.53</div>
<div class="t n" style="left:513px;top:663px;width:90px;height:18px;line-height:18px;font-size:10px;color:#111;text-align:right;padding-right:2px;">$3,189.22</div>
<div class="t n" style="left:603px;top:663px;width:90px;height:18px;line-height:18px;font-size:10px;color:#111;text-align:right;padding-right:2px;">$414,582.71</div>
<div class="t n" style="left:729px;top:663px;width:108px;height:18px;line-height:18px;font-size:10px;color:#111;text-align:right;padding-right:2px;">$555.64</div>
<div class="t n" style="left:837px;top:663px;width:108px;height:18px;line-height:18px;font-size:10px;color:#111;text-align:right;padding-right:2px;">$6,344.44</div>
<div class="t n" style="left:16px;top:681px;width:47px;height:18px;line-height:18px;font-size:10px;color:#111;text-align:left;padding-left:3px;">12</div>
<div class="t n" style="left:63px;top:681px;width:90px;height:18px;line-height:18px;font-size:10px;color:#111;text-align:left;padding-left:3px;">4/1/19</div>
<div class="t n" style="left:153px;top:681px;width:90px;height:18px;line-height:18px;font-size:10px;color:#111;text-align:right;padding-right:2px;">$2,100.00</div>
<div class="t n" style="left:243px;top:681px;width:90px;height:18px;line-height:18px;font-size:10px;color:#111;text-align:right;padding-right:2px;">$4,676.75</div>
<div class="t n" style="left:423px;top:681px;width:90px;height:18px;line-height:18px;font-size:10px;color:#111;text-align:right;padding-right:2px;">$1,575.41</div>
<div class="t n" style="left:513px;top:681px;width:90px;height:18px;line-height:18px;font-size:10px;color:#111;text-align:right;padding-right:2px;">$5,201.34</div>
<div class="t n" style="left:603px;top:681px;width:90px;height:18px;line-height:18px;font-size:10px;color:#111;text-align:right;padding-right:2px;">$409,381.37</div>
<div class="t n" style="left:729px;top:681px;width:108px;height:18px;line-height:18px;font-size:10px;color:#111;text-align:right;padding-right:2px;">$551.39</div>
<div class="t n" style="left:837px;top:681px;width:108px;height:18px;line-height:18px;font-size:10px;color:#111;text-align:right;padding-right:2px;">$6,895.83</div>
<div class="t n" style="left:16px;top:699px;width:47px;height:18px;line-height:18px;font-size:10px;color:#111;text-align:left;padding-left:3px;">13</div>
<div class="t n" style="left:63px;top:699px;width:90px;height:18px;line-height:18px;font-size:10px;color:#111;text-align:left;padding-left:3px;">5/1/19</div>
<div class="t n" style="left:153px;top:699px;width:90px;height:18px;line-height:18px;font-size:10px;color:#111;text-align:right;padding-right:2px;">$100.00</div>
<div class="t n" style="left:243px;top:699px;width:90px;height:18px;line-height:18px;font-size:10px;color:#111;text-align:right;padding-right:2px;">$4,676.75</div>
<div class="t n" style="left:423px;top:699px;width:90px;height:18px;line-height:18px;font-size:10px;color:#111;text-align:right;padding-right:2px;">$1,555.65</div>
<div class="t n" style="left:513px;top:699px;width:90px;height:18px;line-height:18px;font-size:10px;color:#111;text-align:right;padding-right:2px;">$3,221.10</div>
<div class="t n" style="left:603px;top:699px;width:90px;height:18px;line-height:18px;font-size:10px;color:#111;text-align:right;padding-right:2px;">$406,160.27</div>
<div class="t n" style="left:729px;top:699px;width:108px;height:18px;line-height:18px;font-size:10px;color:#111;text-align:right;padding-right:2px;">$544.48</div>
<div class="t n" style="left:837px;top:699px;width:108px;height:18px;line-height:18px;font-size:10px;color:#111;text-align:right;padding-right:2px;">$7,440.31</div>
<div class="t n" style="left:16px;top:717px;width:47px;height:18px;line-height:18px;font-size:10px;color:#111;text-align:left;padding-left:3px;">14</div>
<div class="t n" style="left:63px;top:717px;width:90px;height:18px;line-height:18px;font-size:10px;color:#111;text-align:left;padding-left:3px;">6/1/19</div>
<div class="t n" style="left:153px;top:717px;width:90px;height:18px;line-height:18px;font-size:10px;color:#111;text-align:right;padding-right:2px;">$100.00</div>
<div class="t n" style="left:243px;top:717px;width:90px;height:18px;line-height:18px;font-size:10px;color:#111;text-align:right;padding-right:2px;">$4,676.75</div>
<div class="t n" style="left:423px;top:717px;width:90px;height:18px;line-height:18px;font-size:10px;color:#111;text-align:right;padding-right:2px;">$1,543.41</div>
<div class="t n" style="left:513px;top:717px;width:90px;height:18px;line-height:18px;font-size:10px;color:#111;text-align:right;padding-right:2px;">$3,233.34</div>
<div class="t n" style="left:603px;top:717px;width:90px;height:18px;line-height:18px;font-size:10px;color:#111;text-align:right;padding-right:2px;">$402,926.93</div>
<div class="t n" style="left:729px;top:717px;width:108px;height:18px;line-height:18px;font-size:10px;color:#111;text-align:right;padding-right:2px;">$540.19</div>
<div class="t n" style="left:837px;top:717px;width:108px;height:18px;line-height:18px;font-size:10px;color:#111;text-align:right;padding-right:2px;">$7,980.50</div>
<div class="t n" style="left:16px;top:735px;width:47px;height:18px;line-height:18px;font-size:10px;color:#111;text-align:left;padding-left:3px;">15</div>
<div class="t n" style="left:63px;top:735px;width:90px;height:18px;line-height:18px;font-size:10px;color:#111;text-align:left;padding-left:3px;">7/1/19</div>
<div class="t n" style="left:153px;top:735px;width:90px;height:18px;line-height:18px;font-size:10px;color:#111;text-align:right;padding-right:2px;">$100.00</div>
<div class="t n" style="left:243px;top:735px;width:90px;height:18px;line-height:18px;font-size:10px;color:#111;text-align:right;padding-right:2px;">$4,676.75</div>
<div class="t n" style="left:423px;top:735px;width:90px;height:18px;line-height:18px;font-size:10px;color:#111;text-align:right;padding-right:2px;">$1,531.12</div>
<div class="t n" style="left:513px;top:735px;width:90px;height:18px;line-height:18px;font-size:10px;color:#111;text-align:right;padding-right:2px;">$3,245.63</div>
<div class="t n" style="left:603px;top:735px;width:90px;height:18px;line-height:18px;font-size:10px;color:#111;text-align:right;padding-right:2px;">$399,681.30</div>
<div class="t n" style="left:729px;top:735px;width:108px;height:18px;line-height:18px;font-size:10px;color:#111;text-align:right;padding-right:2px;">$535.89</div>
<div class="t n" style="left:837px;top:735px;width:108px;height:18px;line-height:18px;font-size:10px;color:#111;text-align:right;padding-right:2px;">$8,516.39</div>
<div class="t n" style="left:16px;top:753px;width:47px;height:18px;line-height:18px;font-size:10px;color:#111;text-align:left;padding-left:3px;">16</div>
<div class="t n" style="left:63px;top:753px;width:90px;height:18px;line-height:18px;font-size:10px;color:#111;text-align:left;padding-left:3px;">8/1/19</div>
<div class="t n" style="left:153px;top:753px;width:90px;height:18px;line-height:18px;font-size:10px;color:#111;text-align:right;padding-right:2px;">$100.00</div>
<div class="t n" style="left:243px;top:753px;width:90px;height:18px;line-height:18px;font-size:10px;color:#111;text-align:right;padding-right:2px;">$4,676.75</div>
<div class="t n" style="left:423px;top:753px;width:90px;height:18px;line-height:18px;font-size:10px;color:#111;text-align:right;padding-right:2px;">$1,518.79</div>
<div class="t n" style="left:513px;top:753px;width:90px;height:18px;line-height:18px;font-size:10px;color:#111;text-align:right;padding-right:2px;">$3,257.96</div>
<div class="t n" style="left:603px;top:753px;width:90px;height:18px;line-height:18px;font-size:10px;color:#111;text-align:right;padding-right:2px;">$396,423.34</div>
<div class="t n" style="left:729px;top:753px;width:108px;height:18px;line-height:18px;font-size:10px;color:#111;text-align:right;padding-right:2px;">$531.58</div>
<div class="t n" style="left:837px;top:753px;width:108px;height:18px;line-height:18px;font-size:10px;color:#111;text-align:right;padding-right:2px;">$9,047.97</div>
<div class="t n" style="left:16px;top:771px;width:47px;height:18px;line-height:18px;font-size:10px;color:#111;text-align:left;padding-left:3px;">17</div>
<div class="t n" style="left:63px;top:771px;width:90px;height:18px;line-height:18px;font-size:10px;color:#111;text-align:left;padding-left:3px;">9/1/19</div>
<div class="t n" style="left:153px;top:771px;width:90px;height:18px;line-height:18px;font-size:10px;color:#111;text-align:right;padding-right:2px;">$100.00</div>
<div class="t n" style="left:243px;top:771px;width:90px;height:18px;line-height:18px;font-size:10px;color:#111;text-align:right;padding-right:2px;">$4,676.75</div>
<div class="t n" style="left:423px;top:771px;width:90px;height:18px;line-height:18px;font-size:10px;color:#111;text-align:right;padding-right:2px;">$1,506.41</div>
<div class="t n" style="left:513px;top:771px;width:90px;height:18px;line-height:18px;font-size:10px;color:#111;text-align:right;padding-right:2px;">$3,270.34</div>
<div class="t n" style="left:603px;top:771px;width:90px;height:18px;line-height:18px;font-size:10px;color:#111;text-align:right;padding-right:2px;">$393,153.00</div>
<div class="t n" style="left:729px;top:771px;width:108px;height:18px;line-height:18px;font-size:10px;color:#111;text-align:right;padding-right:2px;">$527.24</div>
<div class="t n" style="left:837px;top:771px;width:108px;height:18px;line-height:18px;font-size:10px;color:#111;text-align:right;padding-right:2px;">$9,575.21</div>
<div class="t n" style="left:16px;top:789px;width:47px;height:18px;line-height:18px;font-size:10px;color:#111;text-align:left;padding-left:3px;">18</div>
<div class="t n" style="left:63px;top:789px;width:90px;height:18px;line-height:18px;font-size:10px;color:#111;text-align:left;padding-left:3px;">10/1/19</div>
<div class="t n" style="left:153px;top:789px;width:90px;height:18px;line-height:18px;font-size:10px;color:#111;text-align:right;padding-right:2px;">$100.00</div>
<div class="t n" style="left:243px;top:789px;width:90px;height:18px;line-height:18px;font-size:10px;color:#111;text-align:right;padding-right:2px;">$4,676.75</div>
<div class="t n" style="left:423px;top:789px;width:90px;height:18px;line-height:18px;font-size:10px;color:#111;text-align:right;padding-right:2px;">$1,493.98</div>
<div class="t n" style="left:513px;top:789px;width:90px;height:18px;line-height:18px;font-size:10px;color:#111;text-align:right;padding-right:2px;">$3,282.77</div>
<div class="t n" style="left:603px;top:789px;width:90px;height:18px;line-height:18px;font-size:10px;color:#111;text-align:right;padding-right:2px;">$389,870.23</div>
<div class="t n" style="left:729px;top:789px;width:108px;height:18px;line-height:18px;font-size:10px;color:#111;text-align:right;padding-right:2px;">$522.89</div>
<div class="t n" style="left:837px;top:789px;width:108px;height:18px;line-height:18px;font-size:10px;color:#111;text-align:right;padding-right:2px;">$10,098.11</div>
<div class="t n" style="left:16px;top:807px;width:47px;height:18px;line-height:18px;font-size:10px;color:#111;text-align:left;padding-left:3px;">19</div>
<div class="t n" style="left:63px;top:807px;width:90px;height:18px;line-height:18px;font-size:10px;color:#111;text-align:left;padding-left:3px;">11/1/19</div>
<div class="t n" style="left:153px;top:807px;width:90px;height:18px;line-height:18px;font-size:10px;color:#111;text-align:right;padding-right:2px;">$100.00</div>
<div class="t n" style="left:243px;top:807px;width:90px;height:18px;line-height:18px;font-size:10px;color:#111;text-align:right;padding-right:2px;">$4,676.75</div>
<div class="t n" style="left:423px;top:807px;width:90px;height:18px;line-height:18px;font-size:10px;color:#111;text-align:right;padding-right:2px;">$1,481.51</div>
<div class="t n" style="left:513px;top:807px;width:90px;height:18px;line-height:18px;font-size:10px;color:#111;text-align:right;padding-right:2px;">$3,295.24</div>
<div class="t n" style="left:603px;top:807px;width:90px;height:18px;line-height:18px;font-size:10px;color:#111;text-align:right;padding-right:2px;">$386,574.99</div>
<div class="t n" style="left:729px;top:807px;width:108px;height:18px;line-height:18px;font-size:10px;color:#111;text-align:right;padding-right:2px;">$518.53</div>
<div class="t n" style="left:837px;top:807px;width:108px;height:18px;line-height:18px;font-size:10px;color:#111;text-align:right;padding-right:2px;">$10,616.63</div>
<div class="t n" style="left:16px;top:825px;width:47px;height:18px;line-height:18px;font-size:10px;color:#111;text-align:left;padding-left:3px;">20</div>
<div class="t n" style="left:63px;top:825px;width:90px;height:18px;line-height:18px;font-size:10px;color:#111;text-align:left;padding-left:3px;">12/1/19</div>
<div class="t n" style="left:153px;top:825px;width:90px;height:18px;line-height:18px;font-size:10px;color:#111;text-align:right;padding-right:2px;">$100.00</div>
<div class="t n" style="left:243px;top:825px;width:90px;height:18px;line-height:18px;font-size:10px;color:#111;text-align:right;padding-right:2px;">$4,676.75</div>
<div class="t n" style="left:423px;top:825px;width:90px;height:18px;line-height:18px;font-size:10px;color:#111;text-align:right;padding-right:2px;">$1,468.98</div>
<div class="t n" style="left:513px;top:825px;width:90px;height:18px;line-height:18px;font-size:10px;color:#111;text-align:right;padding-right:2px;">$3,307.77</div>
<div class="t n" style="left:603px;top:825px;width:90px;height:18px;line-height:18px;font-size:10px;color:#111;text-align:right;padding-right:2px;">$383,267.22</div>
<div class="t n" style="left:729px;top:825px;width:108px;height:18px;line-height:18px;font-size:10px;color:#111;text-align:right;padding-right:2px;">$514.14</div>
<div class="t n" style="left:837px;top:825px;width:108px;height:18px;line-height:18px;font-size:10px;color:#111;text-align:right;padding-right:2px;">$11,130.78</div>
<div class="t n" style="left:16px;top:843px;width:47px;height:18px;line-height:18px;font-size:10px;color:#111;text-align:left;padding-left:3px;">21</div>
<div class="t n" style="left:63px;top:843px;width:90px;height:18px;line-height:18px;font-size:10px;color:#111;text-align:left;padding-left:3px;">1/1/20</div>
<div class="t n" style="left:153px;top:843px;width:90px;height:18px;line-height:18px;font-size:10px;color:#111;text-align:right;padding-right:2px;">$100.00</div>
<div class="t n" style="left:243px;top:843px;width:90px;height:18px;line-height:18px;font-size:10px;color:#111;text-align:right;padding-right:2px;">$4,676.75</div>
<div class="t n" style="left:423px;top:843px;width:90px;height:18px;line-height:18px;font-size:10px;color:#111;text-align:right;padding-right:2px;">$1,456.42</div>
<div class="t n" style="left:513px;top:843px;width:90px;height:18px;line-height:18px;font-size:10px;color:#111;text-align:right;padding-right:2px;">$3,320.33</div>
<div class="t n" style="left:603px;top:843px;width:90px;height:18px;line-height:18px;font-size:10px;color:#111;text-align:right;padding-right:2px;">$379,946.89</div>
<div class="t n" style="left:729px;top:843px;width:108px;height:18px;line-height:18px;font-size:10px;color:#111;text-align:right;padding-right:2px;">$509.75</div>
<div class="t n" style="left:837px;top:843px;width:108px;height:18px;line-height:18px;font-size:10px;color:#111;text-align:right;padding-right:2px;">$11,640.52</div>
<div class="t n" style="left:16px;top:861px;width:47px;height:18px;line-height:18px;font-size:10px;color:#111;text-align:left;padding-left:3px;">22</div>
<div class="t n" style="left:63px;top:861px;width:90px;height:18px;line-height:18px;font-size:10px;color:#111;text-align:left;padding-left:3px;">2/1/20</div>
<div class="t n" style="left:153px;top:861px;width:90px;height:18px;line-height:18px;font-size:10px;color:#111;text-align:right;padding-right:2px;">$100.00</div>
<div class="t n" style="left:243px;top:861px;width:90px;height:18px;line-height:18px;font-size:10px;color:#111;text-align:right;padding-right:2px;">$4,676.75</div>
<div class="t n" style="left:423px;top:861px;width:90px;height:18px;line-height:18px;font-size:10px;color:#111;text-align:right;padding-right:2px;">$1,443.80</div>
<div class="t n" style="left:513px;top:861px;width:90px;height:18px;line-height:18px;font-size:10px;color:#111;text-align:right;padding-right:2px;">$3,332.95</div>
<div class="t n" style="left:603px;top:861px;width:90px;height:18px;line-height:18px;font-size:10px;color:#111;text-align:right;padding-right:2px;">$376,613.94</div>
<div class="t n" style="left:729px;top:861px;width:108px;height:18px;line-height:18px;font-size:10px;color:#111;text-align:right;padding-right:2px;">$505.33</div>
<div class="t n" style="left:837px;top:861px;width:108px;height:18px;line-height:18px;font-size:10px;color:#111;text-align:right;padding-right:2px;">$12,145.85</div>
<div class="t n" style="left:16px;top:879px;width:47px;height:18px;line-height:18px;font-size:10px;color:#111;text-align:left;padding-left:3px;">23</div>
<div class="t n" style="left:63px;top:879px;width:90px;height:18px;line-height:18px;font-size:10px;color:#111;text-align:left;padding-left:3px;">3/1/20</div>
<div class="t n" style="left:153px;top:879px;width:90px;height:18px;line-height:18px;font-size:10px;color:#111;text-align:right;padding-right:2px;">$100.00</div>
<div class="t n" style="left:243px;top:879px;width:90px;height:18px;line-height:18px;font-size:10px;color:#111;text-align:right;padding-right:2px;">$4,676.75</div>
<div class="t n" style="left:423px;top:879px;width:90px;height:18px;line-height:18px;font-size:10px;color:#111;text-align:right;padding-right:2px;">$1,431.13</div>
<div class="t n" style="left:513px;top:879px;width:90px;height:18px;line-height:18px;font-size:10px;color:#111;text-align:right;padding-right:2px;">$3,345.62</div>
<div class="t n" style="left:603px;top:879px;width:90px;height:18px;line-height:18px;font-size:10px;color:#111;text-align:right;padding-right:2px;">$373,268.32</div>
<div class="t n" style="left:729px;top:879px;width:108px;height:18px;line-height:18px;font-size:10px;color:#111;text-align:right;padding-right:2px;">$500.90</div>
<div class="t n" style="left:837px;top:879px;width:108px;height:18px;line-height:18px;font-size:10px;color:#111;text-align:right;padding-right:2px;">$12,646.75</div>
<div class="t n" style="left:16px;top:897px;width:47px;height:18px;line-height:18px;font-size:10px;color:#111;text-align:left;padding-left:3px;">24</div>
<div class="t n" style="left:63px;top:897px;width:90px;height:18px;line-height:18px;font-size:10px;color:#111;text-align:left;padding-left:3px;">4/1/20</div>
<div class="t n" style="left:153px;top:897px;width:90px;height:18px;line-height:18px;font-size:10px;color:#111;text-align:right;padding-right:2px;">$2,100.00</div>
<div class="t n" style="left:243px;top:897px;width:90px;height:18px;line-height:18px;font-size:10px;color:#111;text-align:right;padding-right:2px;">$4,676.75</div>
<div class="t n" style="left:423px;top:897px;width:90px;height:18px;line-height:18px;font-size:10px;color:#111;text-align:right;padding-right:2px;">$1,418.42</div>
<div class="t n" style="left:513px;top:897px;width:90px;height:18px;line-height:18px;font-size:10px;color:#111;text-align:right;padding-right:2px;">$5,358.33</div>
<div class="t n" style="left:603px;top:897px;width:90px;height:18px;line-height:18px;font-size:10px;color:#111;text-align:right;padding-right:2px;">$367,909.99</div>
<div class="t n" style="left:729px;top:897px;width:108px;height:18px;line-height:18px;font-size:10px;color:#111;text-align:right;padding-right:2px;">$496.45</div>
<div class="t n" style="left:837px;top:897px;width:108px;height:18px;line-height:18px;font-size:10px;color:#111;text-align:right;padding-right:2px;">$13,143.20</div>
<div class="b" style="left:16px;top:482px;width:678px;height:1px;background:#333"></div>
<div class="b" style="left:729px;top:482px;width:217px;height:1px;background:#333"></div>
<div class="b" style="left:16px;top:500px;width:678px;height:1px;background:#333"></div>
<div class="b" style="left:729px;top:500px;width:217px;height:1px;background:#333"></div>
<div class="b" style="left:16px;top:518px;width:678px;height:1px;background:#333"></div>
<div class="b" style="left:729px;top:518px;width:217px;height:1px;background:#333"></div>
<div class="b" style="left:16px;top:536px;width:678px;height:1px;background:#333"></div>
<div class="b" style="left:729px;top:536px;width:217px;height:1px;background:#333"></div>
<div class="b" style="left:16px;top:554px;width:678px;height:1px;background:#333"></div>
<div class="b" style="left:729px;top:554px;width:217px;height:1px;background:#333"></div>
<div class="b" style="left:16px;top:572px;width:678px;height:1px;background:#333"></div>
<div class="b" style="left:729px;top:572px;width:217px;height:1px;background:#333"></div>
<div class="b" style="left:16px;top:590px;width:678px;height:1px;background:#333"></div>
<div class="b" style="left:729px;top:590px;width:217px;height:1px;background:#333"></div>
<div class="b" style="left:16px;top:608px;width:678px;height:1px;background:#333"></div>
<div class="b" style="left:729px;top:608px;width:217px;height:1px;background:#333"></div>
<div class="b" style="left:16px;top:626px;width:678px;height:1px;background:#333"></div>
<div class="b" style="left:729px;top:626px;width:217px;height:1px;background:#333"></div>
<div class="b" style="left:16px;top:644px;width:678px;height:1px;background:#333"></div>
<div class="b" style="left:729px;top:644px;width:217px;height:1px;background:#333"></div>
<div class="b" style="left:16px;top:662px;width:678px;height:1px;background:#333"></div>
<div class="b" style="left:729px;top:662px;width:217px;height:1px;background:#333"></div>
<div class="b" style="left:16px;top:680px;width:678px;height:1px;background:#333"></div>
<div class="b" style="left:729px;top:680px;width:217px;height:1px;background:#333"></div>
<div class="b" style="left:16px;top:698px;width:678px;height:1px;background:#333"></div>
<div class="b" style="left:729px;top:698px;width:217px;height:1px;background:#333"></div>
<div class="b" style="left:16px;top:716px;width:678px;height:1px;background:#333"></div>
<div class="b" style="left:729px;top:716px;width:217px;height:1px;background:#333"></div>
<div class="b" style="left:16px;top:734px;width:678px;height:1px;background:#333"></div>
<div class="b" style="left:729px;top:734px;width:217px;height:1px;background:#333"></div>
<div class="b" style="left:16px;top:752px;width:678px;height:1px;background:#333"></div>
<div class="b" style="left:729px;top:752px;width:217px;height:1px;background:#333"></div>
<div class="b" style="left:16px;top:770px;width:678px;height:1px;background:#333"></div>
<div class="b" style="left:729px;top:770px;width:217px;height:1px;background:#333"></div>
<div class="b" style="left:16px;top:788px;width:678px;height:1px;background:#333"></div>
<div class="b" style="left:729px;top:788px;width:217px;height:1px;background:#333"></div>
<div class="b" style="left:16px;top:806px;width:678px;height:1px;background:#333"></div>
<div class="b" style="left:729px;top:806px;width:217px;height:1px;background:#333"></div>
<div class="b" style="left:16px;top:824px;width:678px;height:1px;background:#333"></div>
<div class="b" style="left:729px;top:824px;width:217px;height:1px;background:#333"></div>
<div class="b" style="left:16px;top:842px;width:678px;height:1px;background:#333"></div>
<div class="b" style="left:729px;top:842px;width:217px;height:1px;background:#333"></div>
<div class="b" style="left:16px;top:860px;width:678px;height:1px;background:#333"></div>
<div class="b" style="left:729px;top:860px;width:217px;height:1px;background:#333"></div>
<div class="b" style="left:16px;top:878px;width:678px;height:1px;background:#333"></div>
<div class="b" style="left:729px;top:878px;width:217px;height:1px;background:#333"></div>
<div class="b" style="left:16px;top:896px;width:678px;height:1px;background:#333"></div>
<div class="b" style="left:729px;top:896px;width:217px;height:1px;background:#333"></div>
<div class="b" style="left:16px;top:914px;width:678px;height:1px;background:#333"></div>
<div class="b" style="left:729px;top:914px;width:217px;height:1px;background:#333"></div>
<div class="b" style="left:16px;top:482px;width:1px;height:433px;background:#333"></div>
<div class="b" style="left:63px;top:482px;width:1px;height:433px;background:#333"></div>
<div class="b" style="left:153px;top:482px;width:1px;height:433px;background:#333"></div>
<div class="b" style="left:243px;top:482px;width:1px;height:433px;background:#333"></div>
<div class="b" style="left:333px;top:482px;width:1px;height:433px;background:#333"></div>
<div class="b" style="left:423px;top:482px;width:1px;height:433px;background:#333"></div>
<div class="b" style="left:513px;top:482px;width:1px;height:433px;background:#333"></div>
<div class="b" style="left:603px;top:482px;width:1px;height:433px;background:#333"></div>
<div class="b" style="left:693px;top:482px;width:1px;height:433px;background:#333"></div>
<div class="b" style="left:729px;top:482px;width:1px;height:433px;background:#333"></div>
<div class="b" style="left:837px;top:482px;width:1px;height:433px;background:#333"></div>
<div class="b" style="left:945px;top:482px;width:1px;height:433px;background:#333"></div>
<div class="b" style="left:729px;top:416px;width:216px;height:22px;background:#4b5638;"></div>
<div class="t" style="left:729px;top:417px;width:216px;height:22px;line-height:22px;font-size:10px;color:#fff;text-align:center;">TAX CALC</div>
<div class="b" style="left:729px;top:438px;width:108px;height:44px;background:#8e4b12;"></div>
<div class="b" style="left:837px;top:438px;width:108px;height:44px;background:#db7219;"></div>
<div class="t hd" style="left:729px;top:438px;width:108px;height:44px;">RETURNED TAX</div>
<div class="t hd" style="left:837px;top:438px;width:108px;height:44px;">RETURNED TAX<br>CUMULATIVE</div>
<div class="b" style="left:837px;top:438px;width:1px;height:44px;background:rgba(255,225,180,0.35)"></div>
<div class="b" style="left:729px;top:438px;width:217px;height:1px;background:rgba(255,225,180,0.35)"></div>
<div class="tabbar">
 <div class="b" style="left:0;top:1px;width:967px;height:1px;background:#d6d6d6"></div>
 <div class="b" style="left:0;top:26px;width:967px;height:1px;background:#c9c9c9"></div>
 <div class="b" style="left:0;top:27px;width:967px;height:6px;background:#dcdcdc"></div>
 <svg class="b" style="left:10px;top:8px" width="14" height="12"><path d="M3 1 L11 6 L3 11 Z" fill="#8a8a8a"/></svg>
 <div class="b" style="left:34px;top:2px;width:1px;height:24px;background:#d0d0d0"></div>
 <div class="b" style="left:35px;top:1px;width:207px;height:21px;background:#fffdf6"></div>
 <div class="b" style="left:36px;top:20px;width:206px;height:4px;background:linear-gradient(#a38d6c,#bfae90 60%,#e6ddcf)"></div>
 <div class="t" style="left:35px;top:5px;width:207px;height:18px;line-height:18px;font-size:12px;color:#6a4718;text-align:center;">Home Equity Loan Amort Sched</div>
 <div class="t" style="left:246px;top:5px;width:88px;height:18px;line-height:18px;font-size:12px;font-weight:normal;color:#555;text-align:center;">NoExtraPmts</div>
 <div class="b" style="left:338px;top:3px;width:1px;height:17px;background:#cfcfcf"></div>
 <svg class="b" style="left:352px;top:8px" width="12" height="11"><path d="M1 5.5 H11 M6 0.5 V10.5" stroke="#4a4a4a" stroke-width="2"/></svg>
 <div class="b" style="left:376px;top:3px;width:1px;height:17px;background:#cfcfcf"></div>
</div>
</body></html>
